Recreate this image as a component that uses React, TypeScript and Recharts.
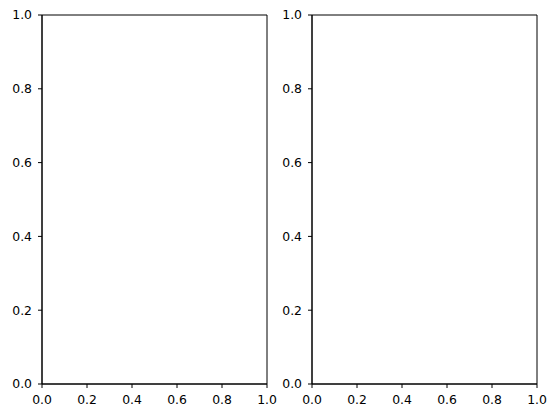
import { ScatterChart, Scatter, XAxis, YAxis, ReferenceArea } from "recharts";

// two empty subplots, both axes run 0..1
const xTicks = [0, 0.2, 0.4, 0.6, 0.8, 1.0];
const yTicks = [0, 0.2, 0.4, 0.6, 0.8, 1.0];
const leftPoints: { x: number; y: number }[] = [];
const rightPoints: { x: number; y: number }[] = [];

const W = 558;
const H = 418;
const font = { fontFamily: "DejaVu Sans", fontSize: 12.4, fill: "#000" };

function Panel({
  data,
  marginLeft,
  marginRight,
}: {
  data: { x: number; y: number }[];
  marginLeft: number;
  marginRight: number;
}) {
  return (
    <div style={{ position: "absolute", left: 0, top: 0 }}>
      <ScatterChart
        width={W}
        height={H}
        margin={{ top: 15, right: marginRight, bottom: 0, left: marginLeft }}
      >
        <XAxis
          dataKey="x"
          type="number"
          domain={[0, 1]}
          allowDataOverflow
          ticks={xTicks}
          tickFormatter={(v: number) => v.toFixed(1)}
          height={34}
          tickSize={4}
          tickMargin={7}
          axisLine={{ stroke: "#000" }}
          tickLine={{ stroke: "#000" }}
          tick={font}
          interval={0}
        />
        <YAxis
          dataKey="y"
          type="number"
          domain={[0, 1]}
          allowDataOverflow
          ticks={yTicks}
          tickFormatter={(v: number) => v.toFixed(1)}
          width={42}
          tickSize={4}
          tickMargin={6}
          axisLine={{ stroke: "#000" }}
          tickLine={{ stroke: "#000" }}
          tick={font}
          interval={0}
        />
        <ReferenceArea
          x1={0}
          x2={1}
          y1={0}
          y2={1}
          fill="none"
          stroke="#000"
          strokeWidth={1}
          ifOverflow="visible"
        />
        <Scatter data={data} fill="#1f77b4" isAnimationActive={false} />
      </ScatterChart>
    </div>
  );
}

export default function App() {
  return (
    <div style={{ position: "absolute", left: 0, top: 0, width: W, height: H, background: "#fff" }}>
      <Panel data={leftPoints} marginLeft={0} marginRight={W - 267} />
      <Panel data={rightPoints} marginLeft={270} marginRight={W - 537} />
    </div>
  );
}
